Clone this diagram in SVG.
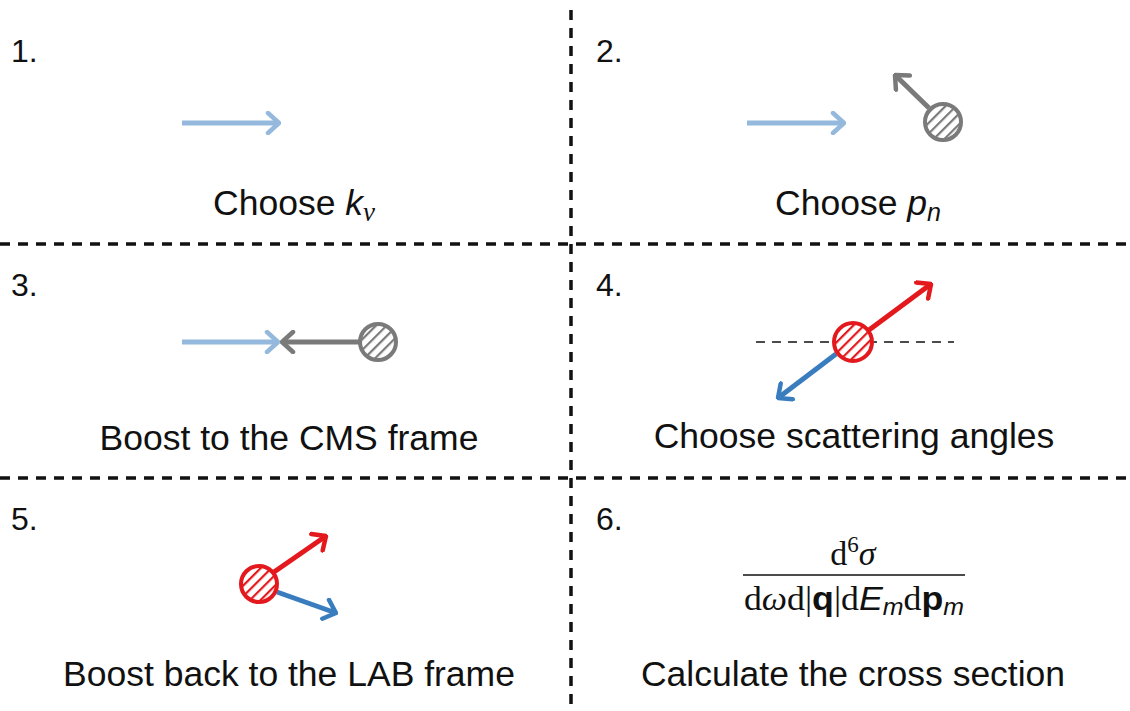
<svg xmlns="http://www.w3.org/2000/svg" width="1130" height="711" viewBox="0 0 1130 711">
<style>
.lbl{font-family:"Liberation Sans",Arial,sans-serif;font-size:35.5px;fill:#111;text-anchor:middle}
.num{font-family:"Liberation Sans",Arial,sans-serif;font-size:32px;fill:#111}
.sep{stroke:#111;stroke-width:3.5;stroke-dasharray:10 8;fill:none}
.lb{stroke:#94b9dc;stroke-width:5;fill:none;stroke-linecap:butt}
.gr{stroke:#7a7a7a;stroke-width:5;fill:none}
.rd{stroke:#e3191e;stroke-width:5;fill:none}
.bl{stroke:#3a7dbf;stroke-width:5;fill:none}
.ser{font-family:"Liberation Serif","Times New Roman",serif}
.san{font-family:"Liberation Sans",Arial,sans-serif}
</style>
<defs>
<pattern id="hg" width="7.5" height="7.5" patternUnits="userSpaceOnUse" patternTransform="rotate(45)"><line x1="1" y1="0" x2="1" y2="7.5" stroke="#7a7a7a" stroke-width="2.4"/></pattern>
<pattern id="hr" width="7.5" height="7.5" patternUnits="userSpaceOnUse" patternTransform="rotate(45)"><line x1="1" y1="0" x2="1" y2="7.5" stroke="#e3191e" stroke-width="2.4"/></pattern>
<marker id="mlb" markerUnits="userSpaceOnUse" viewBox="-14 -12 16 24" markerWidth="16" markerHeight="24" refX="0" refY="0" orient="auto"><path d="M-11,-10 L0,0 L-11,10" fill="none" stroke="#94b9dc" stroke-width="4.5" stroke-linecap="round" stroke-linejoin="round"/></marker>
<marker id="mgr" markerUnits="userSpaceOnUse" viewBox="-14 -12 16 24" markerWidth="16" markerHeight="24" refX="0" refY="0" orient="auto"><path d="M-11,-10 L0,0 L-11,10" fill="none" stroke="#7a7a7a" stroke-width="4.5" stroke-linecap="round" stroke-linejoin="round"/></marker>
<marker id="mrd" markerUnits="userSpaceOnUse" viewBox="-14 -12 16 24" markerWidth="16" markerHeight="24" refX="0" refY="0" orient="auto"><path d="M-11,-10 L0,0 L-11,10" fill="none" stroke="#e3191e" stroke-width="4.5" stroke-linecap="round" stroke-linejoin="round"/></marker>
<marker id="mbl" markerUnits="userSpaceOnUse" viewBox="-14 -12 16 24" markerWidth="16" markerHeight="24" refX="0" refY="0" orient="auto"><path d="M-11,-10 L0,0 L-11,10" fill="none" stroke="#3a7dbf" stroke-width="4.5" stroke-linecap="round" stroke-linejoin="round"/></marker>
</defs>
<rect width="1130" height="711" fill="#fff"/>
<g id="grid">
<line class="sep" x1="571" y1="10" x2="571" y2="711"/>
<line class="sep" x1="0" y1="244" x2="1130" y2="244"/>
<line class="sep" x1="0" y1="478" x2="1130" y2="478"/>
</g>
<g id="panel1">
<text class="num" x="11" y="62">1.</text>
<line class="lb" x1="182" y1="123" x2="279" y2="123" marker-end="url(#mlb)"/>
<text class="lbl" x="294" y="215">Choose <tspan font-style="italic">k</tspan><tspan class="ser" font-style="italic" font-size="27" dy="6">ν</tspan></text>
</g>
<g id="panel2">
<text class="num" x="596" y="62">2.</text>
<line class="lb" x1="747" y1="123" x2="844" y2="123" marker-end="url(#mlb)"/>
<line class="gr" x1="929" y1="108" x2="895" y2="75" marker-end="url(#mgr)"/>
<circle cx="943" cy="122" r="18" fill="url(#hg)" stroke="#7a7a7a" stroke-width="4"/>
<text class="lbl" x="858" y="215">Choose <tspan font-style="italic">p</tspan><tspan font-style="italic" font-size="25" dy="6">n</tspan></text>
</g>
<g id="panel3">
<text class="num" x="11" y="296">3.</text>
<line class="lb" x1="182" y1="342" x2="278" y2="342" marker-end="url(#mlb)"/>
<line class="gr" x1="359" y1="342" x2="282" y2="342" marker-end="url(#mgr)"/>
<circle cx="378" cy="342" r="18" fill="url(#hg)" stroke="#7a7a7a" stroke-width="4"/>
<text class="lbl" x="289" y="450">Boost to the CMS frame</text>
</g>
<g id="panel4">
<text class="num" x="596" y="296">4.</text>
<line x1="756" y1="342" x2="954" y2="342" stroke="#111" stroke-width="1.3" stroke-dasharray="9 7"/>
<line class="rd" x1="869" y1="330" x2="931" y2="284" marker-end="url(#mrd)"/>
<line class="bl" x1="836" y1="354" x2="778" y2="398" marker-end="url(#mbl)"/>
<circle cx="853" cy="342" r="19" fill="#fff" stroke="none"/>
<circle cx="853" cy="342" r="19" fill="url(#hr)" stroke="#e3191e" stroke-width="4"/>
<text class="lbl" x="854" y="448">Choose scattering angles</text>
</g>
<g id="panel5">
<text class="num" x="11" y="530">5.</text>
<line class="rd" x1="274" y1="572" x2="326" y2="536" marker-end="url(#mrd)"/>
<line class="bl" x1="277" y1="592" x2="336" y2="613" marker-end="url(#mbl)"/>
<circle cx="259" cy="584" r="18" fill="url(#hr)" stroke="#e3191e" stroke-width="4"/>
<text class="lbl" x="289" y="686">Boost back to the LAB frame</text>
</g>
<g id="panel6">
<text class="num" x="596" y="530">6.</text>
<text class="ser" x="853" y="565" font-size="34" text-anchor="middle" fill="#111">d<tspan font-size="23" dy="-13">6</tspan><tspan font-style="italic" dy="13">σ</tspan></text>
<line x1="743" y1="575" x2="965" y2="575" stroke="#111" stroke-width="1.5"/>
<text x="744" y="610" font-size="33" fill="#111" textLength="220" lengthAdjust="spacingAndGlyphs"><tspan class="ser">d<tspan font-style="italic">ω</tspan>d|</tspan><tspan class="san" font-weight="bold">q</tspan><tspan class="ser">|d</tspan><tspan class="san" font-style="italic">E</tspan><tspan class="san" font-style="italic" font-size="23" dy="5">m</tspan><tspan class="ser" dy="-5">d</tspan><tspan class="san" font-weight="bold">p</tspan><tspan class="san" font-style="italic" font-size="23" dy="5">m</tspan></text>
<text class="lbl" x="853" y="686">Calculate the cross section</text>
</g>
</svg>
